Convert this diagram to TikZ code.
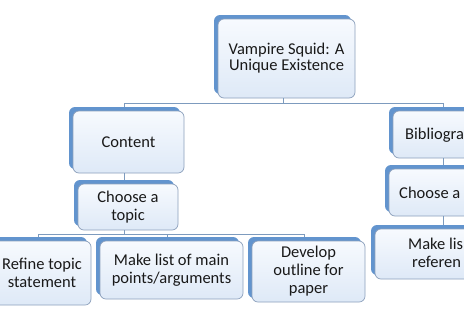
\documentclass[tikz,border=0pt]{standalone}
\usepackage{fontspec}
\setmainfont{Carlito}
\usetikzlibrary{shadows}
\definecolor{band}{RGB}{98,148,206}
\definecolor{edge}{RGB}{140,160,188}
\definecolor{topc}{RGB}{247,250,254}
\definecolor{botc}{RGB}{222,233,247}
\definecolor{link}{RGB}{125,155,190}
\definecolor{ink}{RGB}{25,25,25}
\begin{document}
\begin{tikzpicture}[x=1bp,y=-1bp,
  card/.style={draw=edge, line width=0.7bp, rounded corners=6bp,
    top color=topc, bottom color=botc,
    general shadow={fill=band, shadow xshift=-4bp, shadow yshift=4bp},
    align=center, inner sep=0pt, text=ink,
    font=\fontsize{16.5bp}{18bp}\selectfont},
  lbl/.style={inner sep=0pt, text=ink, font=\fontsize{16.5bp}{18bp}\selectfont},
  wire/.style={draw=link, line width=0.8bp}]
\useasboundingbox (0,0) rectangle (464,325);
\clip (0,0) rectangle (464,325);
\fill[white] (0,0) rectangle (464,325);

\node[card, minimum width=137bp, minimum height=79bp] (root) at (286.5,58.5) {\raisebox{-2bp}{Vampire Squid: A}\\Unique Existence};
\node[card, minimum width=111bp, minimum height=62bp] (content) at (128.5,142) {Content};
\node[card, minimum width=100bp, minimum height=46bp] (choose) at (128,207) {Choose a\\topic};
\node[card, minimum width=98bp, minimum height=64bp] (refine) at (42,273) {Refine topic\\statement};
\node[card, minimum width=143bp, minimum height=58bp] (makelist) at (171.5,270) {Make list of main\\points/arguments};
\node[card, minimum width=113bp, minimum height=61bp] (develop) at (308.5,271.5) {Develop\\outline for\\paper};
\node[card, minimum width=108bp, minimum height=47bp] (biblio) at (447,134.5) {};
\node[card, minimum width=116bp, minimum height=47bp] (choose2) at (447,192.5) {};
\node[card, minimum width=144bp, minimum height=50bp] (makelist2) at (447,254) {};

\node[lbl, anchor=base west] (biblioT) at (405,139) {Bibliogra};
\node[lbl, anchor=base west] (choose2T) at (399,198) {Choose a};
\node[lbl, anchor=base west] (ml2a) at (408,249) {Make lis};
\node[lbl, anchor=base west] (ml2b) at (412,267) {referen};

% connectors
\draw[wire] ([xshift=-3bp]root.south) -- ++(0,5) coordinate (bus1);
\draw[wire] ([xshift=-4bp,yshift=4bp]content.north) |- (bus1) -| ([xshift=-4bp,yshift=4bp]biblio.north);

\coordinate (cS) at ([xshift=-4bp]content.south);
\coordinate (chN) at ([yshift=4bp]choose.north);
\draw[wire] (cS) -- (cS |- chN);

\draw[wire] ([xshift=-4bp]choose.south) -- ++(0,4) coordinate (bus2);
\draw[wire] ([xshift=-4bp,yshift=4bp]refine.north) |- (bus2) -| ([xshift=-4bp,yshift=4bp]develop.north);
\coordinate (mlTop) at ([xshift=-4bp,yshift=4bp]makelist.north);
\draw[wire] (mlTop) -- (mlTop |- bus2);

\coordinate (bS) at ([xshift=-4bp]biblio.south);
\coordinate (c2N) at ([yshift=4bp]choose2.north);
\draw[wire] (bS) -- (bS |- c2N);
\coordinate (c2S) at ([xshift=-4bp]choose2.south);
\coordinate (m2N) at ([yshift=4bp]makelist2.north);
\draw[wire] (c2S) -- (c2S |- m2N);
\end{tikzpicture}
\end{document}
